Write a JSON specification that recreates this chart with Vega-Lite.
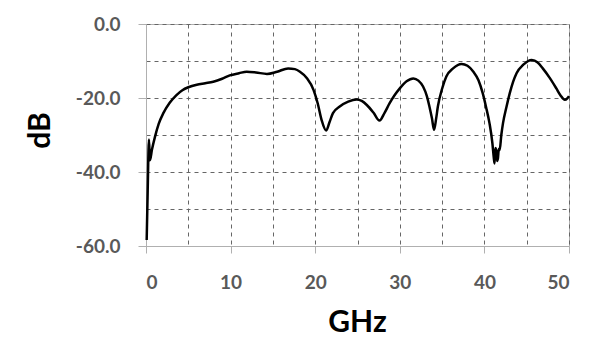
{
  "$schema": "https://vega.github.io/schema/vega-lite/v6.json",
  "width": 423,
  "height": 222,
  "autosize": {"type": "none"},
  "padding": {"left": 146, "top": 24, "right": 31, "bottom": 116},
  "background": "white",
  "config": {
    "font": "Lato",
    "view": {"stroke": "#b0b0b0", "strokeWidth": 1}
  },
  "data": {
    "values": [
      {"f": 0.08, "db": -58.4}, {"f": 0.2, "db": -45}, {"f": 0.35, "db": -31.2}, {"f": 0.47, "db": -36.8},
      {"f": 0.7, "db": -34}, {"f": 1.06, "db": -30.5}, {"f": 1.5, "db": -27}, {"f": 2.05, "db": -24.1},
      {"f": 2.8, "db": -21.3}, {"f": 3.6, "db": -19.2}, {"f": 4.3, "db": -17.9}, {"f": 5.0, "db": -17.1},
      {"f": 6.0, "db": -16.4}, {"f": 7.0, "db": -16.0}, {"f": 7.95, "db": -15.6}, {"f": 9.0, "db": -14.8},
      {"f": 9.9, "db": -13.9}, {"f": 11.0, "db": -13.3}, {"f": 11.9, "db": -12.9}, {"f": 13.0, "db": -13.1},
      {"f": 14.3, "db": -13.5}, {"f": 15.5, "db": -12.9}, {"f": 16.8, "db": -12.0}, {"f": 17.6, "db": -12.2},
      {"f": 18.2, "db": -12.9}, {"f": 19.0, "db": -14.6}, {"f": 19.8, "db": -17.8}, {"f": 20.3, "db": -21.5},
      {"f": 20.75, "db": -25.9}, {"f": 21.3, "db": -28.8}, {"f": 21.7, "db": -26.5}, {"f": 22.1, "db": -24.1},
      {"f": 22.9, "db": -22.3}, {"f": 23.9, "db": -21.0}, {"f": 24.9, "db": -20.4}, {"f": 25.5, "db": -20.8},
      {"f": 26.1, "db": -21.9}, {"f": 26.9, "db": -24}, {"f": 27.6, "db": -26.1}, {"f": 28.2, "db": -24},
      {"f": 28.8, "db": -21.4}, {"f": 29.4, "db": -19.2}, {"f": 30.0, "db": -17.4}, {"f": 30.8, "db": -15.5},
      {"f": 31.6, "db": -14.7}, {"f": 32.2, "db": -15.3}, {"f": 32.75, "db": -16.9}, {"f": 33.2, "db": -19.5},
      {"f": 33.5, "db": -22.3}, {"f": 33.8, "db": -25.5}, {"f": 34.05, "db": -28.6}, {"f": 34.3, "db": -25.5},
      {"f": 34.5, "db": -22.3}, {"f": 35.0, "db": -17.5}, {"f": 35.5, "db": -14.2}, {"f": 36.3, "db": -12},
      {"f": 37.3, "db": -10.8}, {"f": 38.0, "db": -11.3}, {"f": 38.7, "db": -12.9}, {"f": 39.3, "db": -15.2},
      {"f": 39.8, "db": -18.7}, {"f": 40.2, "db": -22.5}, {"f": 40.6, "db": -26.8}, {"f": 40.95, "db": -32.3},
      {"f": 41.1, "db": -35.9}, {"f": 41.2, "db": -37.7}, {"f": 41.3, "db": -33.5}, {"f": 41.4, "db": -34.1},
      {"f": 41.5, "db": -37}, {"f": 41.6, "db": -36.3}, {"f": 41.7, "db": -33.8}, {"f": 41.8, "db": -34.1},
      {"f": 42.0, "db": -30}, {"f": 42.2, "db": -26.8}, {"f": 42.6, "db": -22.5}, {"f": 43.0, "db": -18.7},
      {"f": 43.4, "db": -15.6}, {"f": 43.8, "db": -13.3}, {"f": 44.6, "db": -11}, {"f": 45.6, "db": -9.7},
      {"f": 46.3, "db": -10.4}, {"f": 46.9, "db": -12.0}, {"f": 47.7, "db": -14.5}, {"f": 48.5, "db": -17.4},
      {"f": 49.0, "db": -19.3}, {"f": 49.5, "db": -20.5}, {"f": 49.8, "db": -20.1}, {"f": 50, "db": -19.5}
    ]
  },
  "mark": {"type": "line", "color": "black", "strokeWidth": 2.5, "interpolate": "monotone"},
  "encoding": {
    "x": {
      "field": "f", "type": "quantitative",
      "scale": {"domain": [0, 50], "nice": false},
      "axis": {
        "title": "GHz",
        "values": [0, 5, 10, 15, 20, 25, 30, 35, 40, 45, 50],
        "labelExpr": "datum.value % 10 == 0 ? datum.label : ''",
        "grid": true, "gridDash": [4, 4], "gridColor": "#666666", "gridWidth": 1,
        "domainColor": "#b0b0b0",
        "tickColor": "#b0b0b0", "tickSize": 7,
        "tickOpacity": {"condition": {"test": "datum.value % 10 != 0", "value": 0}, "value": 1},
        "labelFont": "Lato", "labelFontSize": 19, "labelFontWeight": "bold", "labelColor": "#595959",
        "labelBaseline": "middle", "labelPadding": 29,
        "titleFont": "Lato", "titleFontSize": 30, "titleFontWeight": "bold", "titleColor": "black",
        "titleX": 211, "titleY": 76, "titleBaseline": "middle", "titleAlign": "center"
      }
    },
    "y": {
      "field": "db", "type": "quantitative",
      "scale": {"domain": [-60, 0], "nice": false},
      "axis": {
        "title": "dB",
        "values": [-60, -50, -40, -30, -20, -10, 0],
        "format": ".1f",
        "labelExpr": "datum.value % 20 == 0 ? replace(datum.label, '\u2212', '-') : ''",
        "grid": true, "gridDash": [4, 4], "gridColor": "#666666", "gridWidth": 1,
        "domainColor": "#b0b0b0",
        "tickColor": "#b0b0b0", "tickSize": 8,
        "tickOpacity": {"condition": {"test": "datum.value % 20 != 0", "value": 0}, "value": 1},
        "labelFont": "Lato", "labelFontSize": 19, "labelFontWeight": "bold", "labelColor": "#595959",
        "labelPadding": 18,
        "titleFont": "Lato", "titleFontSize": 30, "titleFontWeight": "bold", "titleColor": "black",
        "titleAngle": -90, "titleX": -106, "titleY": 106, "titleBaseline": "middle", "titleAlign": "center"
      }
    }
  }
}
